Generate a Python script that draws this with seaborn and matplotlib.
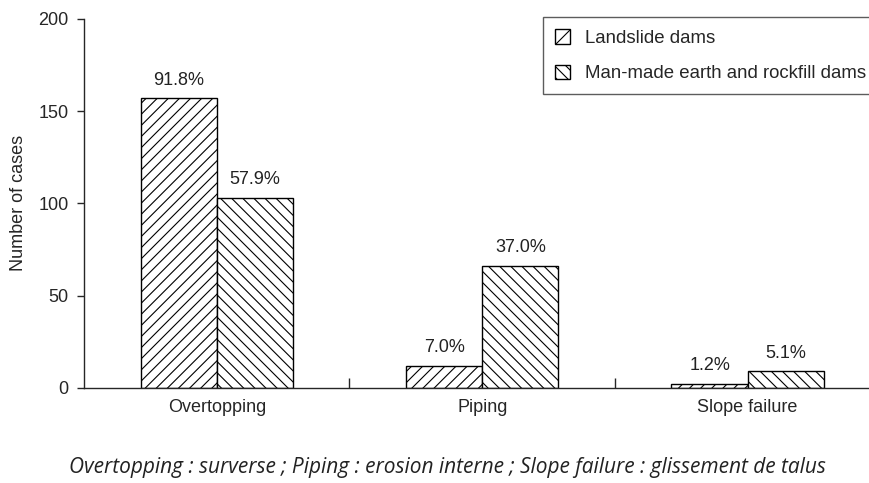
import matplotlib
matplotlib.use("Agg")
import matplotlib.pyplot as plt
import seaborn as sns
import pandas as pd
from matplotlib.patches import Patch

modes = ["Overtopping", "Piping", "Slope failure"]
dam_types = ["Landslide dams", "Man-made earth and rockfill dams"]
landslide_cases = [157, 12, 2]
manmade_cases = [103, 66, 9]
landslide_pct = ["91.8%", "7.0%", "1.2%"]
manmade_pct = ["57.9%", "37.0%", "5.1%"]
hatches = ["///", "\\\\\\"]

df = pd.DataFrame({
    "mode": modes * 2,
    "type": [dam_types[0]] * 3 + [dam_types[1]] * 3,
    "cases": landslide_cases + manmade_cases,
})

sns.set_style("ticks")
plt.rcParams["font.family"] = ["Liberation Sans", "DejaVu Sans"]
plt.rcParams["hatch.linewidth"] = 0.8

fig = plt.figure(figsize=(8.69, 4.83), dpi=100)
ax = fig.add_axes([0.0967, 0.197, 0.9033, 0.7637])

sns.barplot(data=df, x="mode", y="cases", hue="type", hue_order=dam_types,
            order=modes, width=0.574, gap=0, palette=["white", "white"],
            edgecolor="black", linewidth=1.0, legend=False, ax=ax)

for cont, h, labs in zip(ax.containers, hatches, [landslide_pct, manmade_pct]):
    for bar in cont:
        bar.set_hatch(h)
        bar.set_edgecolor("black")
    ax.bar_label(cont, labels=labs, padding=7, fontsize=13, color="#222222")

ax.set_xlim(-0.5, 2.457)
ax.set_ylim(0, 200)
ax.set_yticks([0, 50, 100, 150, 200])
ax.set_xlabel("")
ax.set_ylabel("Number of cases", fontsize=13, labelpad=8)
ax.tick_params(axis="y", direction="out", length=5, width=1, labelsize=13, pad=6)
ax.tick_params(axis="x", which="major", length=0, labelsize=13, pad=8)
ax.set_xticks([0.5, 1.5], minor=True)
ax.tick_params(axis="x", which="minor", direction="in", length=7, width=1)
for s in ["top", "right"]:
    ax.spines[s].set_visible(False)
for s in ["left", "bottom"]:
    ax.spines[s].set_linewidth(1.0)

handles = [Patch(facecolor="white", edgecolor="black", hatch=h, label=t)
           for h, t in zip(["//", "\\\\\\"], dam_types)]
leg = fig.legend(handles=handles, loc="upper left", bbox_to_anchor=(0.625, 0.964),
                 frameon=True, fancybox=False, edgecolor="#333333", fontsize=13.4,
                 handlelength=0.8, handleheight=0.8, handletextpad=0.8,
                 labelspacing=0.95, borderpad=0.65, borderaxespad=0)
leg.get_frame().set_linewidth(1.0)

fig.text(0.515, 0.033, "Overtopping : surverse ; Piping : erosion interne ; Slope failure : glissement de talus",
         ha="center", va="center", fontsize=15, style="italic", family="Open Sans",
         color="#222222")

fig.savefig("out.png", dpi=100)
